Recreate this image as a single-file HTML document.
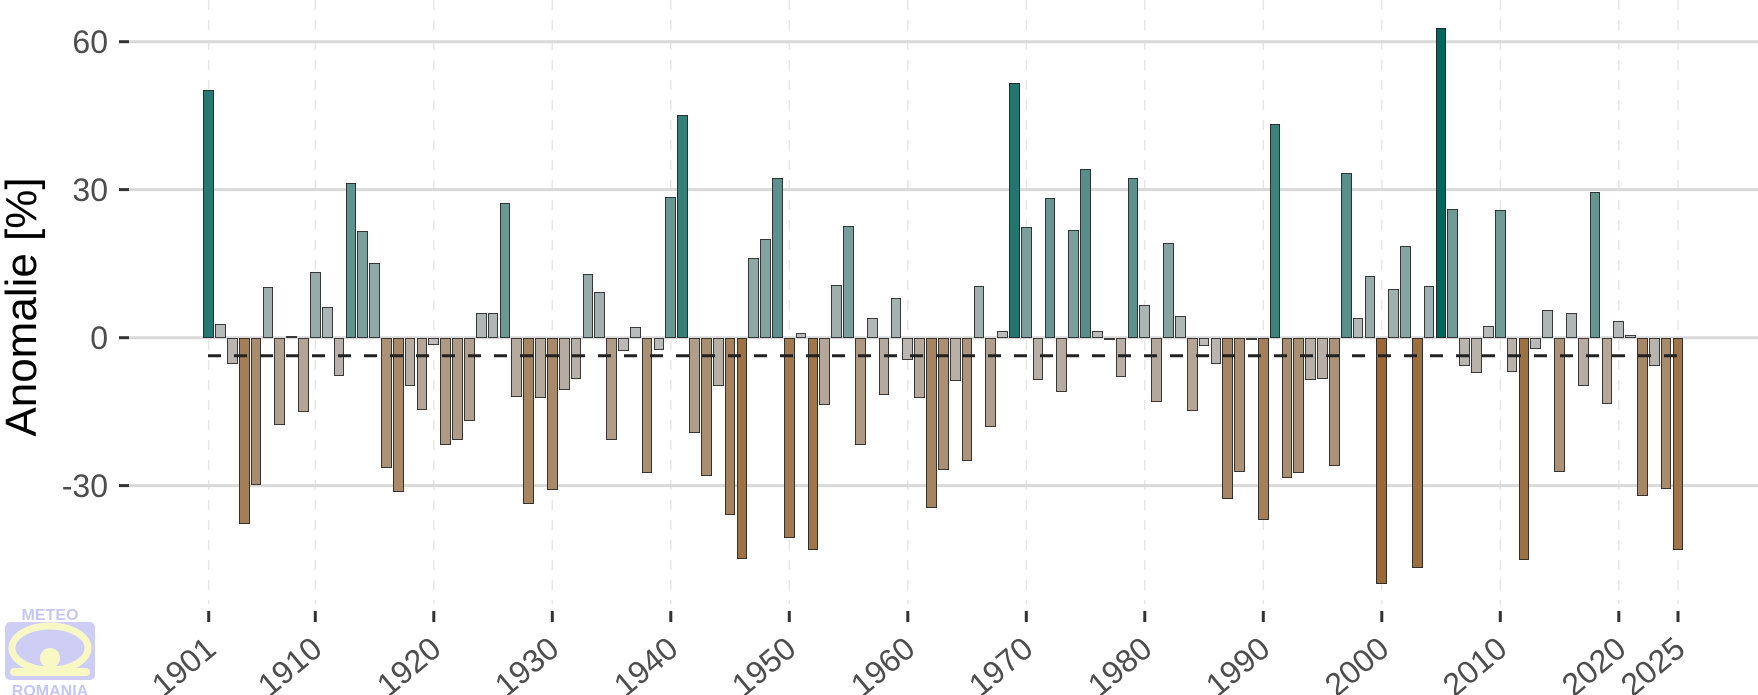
<!DOCTYPE html>
<html><head><meta charset="utf-8">
<style>
html,body{margin:0;padding:0;background:#fff;}
#w{position:relative;width:1758px;height:695px;overflow:hidden;font-family:"Liberation Sans",sans-serif;}
svg{position:absolute;left:0;top:0;}
.b{position:absolute;box-sizing:border-box;width:10.7px;border:1px solid rgba(35,35,35,0.85);
left:calc(203.35px + var(--i) * 11.849px);}
.p{top:calc(337.7px - var(--v) * 4.93px);height:calc(var(--v) * 4.93px);
background:rgb(calc(190 - var(--v) * 3.016),calc(190 - var(--v) * 1.397),calc(190 - var(--v) * 1.524));}
.n{top:337.7px;height:calc(var(--v) * -4.93px);
background:rgb(calc(190 + var(--v) * 0.7),calc(190 + var(--v) * 1.7),calc(190 + var(--v) * 2.7));}
</style></head><body><div id="w">
<svg width="1758" height="695" viewBox="0 0 1758 695">
<g stroke="#e6e6e6" stroke-width="1.5" stroke-dasharray="10,10">
<line x1="208.7" y1="0" x2="208.7" y2="604"/><line x1="315.3" y1="0" x2="315.3" y2="604"/>
<line x1="433.8" y1="0" x2="433.8" y2="604"/><line x1="552.3" y1="0" x2="552.3" y2="604"/>
<line x1="670.8" y1="0" x2="670.8" y2="604"/><line x1="789.3" y1="0" x2="789.3" y2="604"/>
<line x1="907.8" y1="0" x2="907.8" y2="604"/><line x1="1026.3" y1="0" x2="1026.3" y2="604"/>
<line x1="1144.8" y1="0" x2="1144.8" y2="604"/><line x1="1263.3" y1="0" x2="1263.3" y2="604"/>
<line x1="1381.8" y1="0" x2="1381.8" y2="604"/><line x1="1500.3" y1="0" x2="1500.3" y2="604"/>
<line x1="1618.8" y1="0" x2="1618.8" y2="604"/><line x1="1678" y1="0" x2="1678" y2="604"/>
</g>
<g stroke="#d9d9d9" stroke-width="3">
<line x1="129" y1="41.7" x2="1758" y2="41.7"/><line x1="129" y1="189.6" x2="1758" y2="189.6"/>
<line x1="129" y1="337.7" x2="1758" y2="337.7"/><line x1="129" y1="485.6" x2="1758" y2="485.6"/>
</g>
<g stroke="#333" stroke-width="3">
<line x1="119" y1="41.7" x2="129" y2="41.7"/><line x1="119" y1="189.6" x2="129" y2="189.6"/>
<line x1="119" y1="337.7" x2="129" y2="337.7"/><line x1="119" y1="485.6" x2="129" y2="485.6"/>
<line x1="208.7" y1="611" x2="208.7" y2="622"/><line x1="315.3" y1="611" x2="315.3" y2="622"/>
<line x1="433.8" y1="611" x2="433.8" y2="622"/><line x1="552.3" y1="611" x2="552.3" y2="622"/>
<line x1="670.8" y1="611" x2="670.8" y2="622"/><line x1="789.3" y1="611" x2="789.3" y2="622"/>
<line x1="907.8" y1="611" x2="907.8" y2="622"/><line x1="1026.3" y1="611" x2="1026.3" y2="622"/>
<line x1="1144.8" y1="611" x2="1144.8" y2="622"/><line x1="1263.3" y1="611" x2="1263.3" y2="622"/>
<line x1="1381.8" y1="611" x2="1381.8" y2="622"/><line x1="1500.3" y1="611" x2="1500.3" y2="622"/>
<line x1="1618.8" y1="611" x2="1618.8" y2="622"/><line x1="1678" y1="611" x2="1678" y2="622"/>
</g>
<g font-family="Liberation Sans, sans-serif" font-size="32" fill="#4d4d4d" text-anchor="end">
<text x="108" y="53">60</text><text x="108" y="201">30</text>
<text x="108" y="349">0</text><text x="108" y="497">-30</text>
</g>
<text transform="translate(36,307) rotate(-90)" font-family="Liberation Sans, sans-serif" font-size="44" fill="#000" text-anchor="middle">Anomalie [%]</text>
<g font-family="Liberation Sans, sans-serif" font-size="32" fill="#4d4d4d" text-anchor="end">
<text transform="translate(218,652) rotate(-40)">1901</text>
<text transform="translate(324,652) rotate(-40)">1910</text>
<text transform="translate(443,652) rotate(-40)">1920</text>
<text transform="translate(561,652) rotate(-40)">1930</text>
<text transform="translate(680,652) rotate(-40)">1940</text>
<text transform="translate(798,652) rotate(-40)">1950</text>
<text transform="translate(917,652) rotate(-40)">1960</text>
<text transform="translate(1035,652) rotate(-40)">1970</text>
<text transform="translate(1154,652) rotate(-40)">1980</text>
<text transform="translate(1272,652) rotate(-40)">1990</text>
<text transform="translate(1391,652) rotate(-40)">2000</text>
<text transform="translate(1509,652) rotate(-40)">2010</text>
<text transform="translate(1628,652) rotate(-40)">2020</text>
<text transform="translate(1687,652) rotate(-40)">2025</text>
</g>
<g>
<text x="50" y="620" font-family="Liberation Sans, sans-serif" font-weight="bold" font-size="16" fill="#c4c6f4" text-anchor="middle">METEO</text>
<rect x="5" y="622" width="90" height="58" rx="5" fill="#cdcdf6"/>
<ellipse cx="50" cy="648" rx="38" ry="22" fill="none" stroke="#f8f8c4" stroke-width="7"/>
<circle cx="50" cy="658" r="10" fill="#f8f8c4"/>
<rect x="10" y="668" width="80" height="8" rx="4" fill="#f8f8c4"/>
<text x="50" y="696" font-family="Liberation Sans, sans-serif" font-weight="bold" font-size="16" fill="#c4c6f4" text-anchor="middle">ROMANIA</text>
</g>
</svg>

<div class="b p" style="--i:0;--v:50.3"></div><div class="b p" style="--i:1;--v:2.8"></div><div class="b n" style="--i:2;--v:-5.4"></div><div class="b n" style="--i:3;--v:-37.7"></div><div class="b n" style="--i:4;--v:-29.9"></div><div class="b p" style="--i:5;--v:10.3"></div><div class="b n" style="--i:6;--v:-17.8"></div><div class="b p" style="--i:7;--v:0.4"></div><div class="b n" style="--i:8;--v:-15.1"></div><div class="b p" style="--i:9;--v:13.3"></div>
<div class="b p" style="--i:10;--v:6.2"></div><div class="b n" style="--i:11;--v:-7.7"></div><div class="b p" style="--i:12;--v:31.3"></div><div class="b p" style="--i:13;--v:21.6"></div><div class="b p" style="--i:14;--v:15.2"></div><div class="b n" style="--i:15;--v:-26.4"></div><div class="b n" style="--i:16;--v:-31.4"></div><div class="b n" style="--i:17;--v:-9.8"></div><div class="b n" style="--i:18;--v:-14.7"></div><div class="b n" style="--i:19;--v:-1.4"></div>
<div class="b n" style="--i:20;--v:-21.7"></div><div class="b n" style="--i:21;--v:-20.7"></div><div class="b n" style="--i:22;--v:-16.8"></div><div class="b p" style="--i:23;--v:5.1"></div><div class="b p" style="--i:24;--v:5.1"></div><div class="b p" style="--i:25;--v:27.3"></div><div class="b n" style="--i:26;--v:-12.0"></div><div class="b n" style="--i:27;--v:-33.8"></div><div class="b n" style="--i:28;--v:-12.2"></div><div class="b n" style="--i:29;--v:-30.8"></div>
<div class="b n" style="--i:30;--v:-10.7"></div><div class="b n" style="--i:31;--v:-8.4"></div><div class="b p" style="--i:32;--v:12.9"></div><div class="b p" style="--i:33;--v:9.3"></div><div class="b n" style="--i:34;--v:-20.7"></div><div class="b n" style="--i:35;--v:-2.8"></div><div class="b p" style="--i:36;--v:2.2"></div><div class="b n" style="--i:37;--v:-27.4"></div><div class="b n" style="--i:38;--v:-2.4"></div><div class="b p" style="--i:39;--v:28.5"></div>
<div class="b p" style="--i:40;--v:45.1"></div><div class="b n" style="--i:41;--v:-19.3"></div><div class="b n" style="--i:42;--v:-28.1"></div><div class="b n" style="--i:43;--v:-9.7"></div><div class="b n" style="--i:44;--v:-36"></div><div class="b n" style="--i:45;--v:-44.8"></div><div class="b p" style="--i:46;--v:16.1"></div><div class="b p" style="--i:47;--v:20.1"></div><div class="b p" style="--i:48;--v:32.3"></div><div class="b n" style="--i:49;--v:-40.7"></div>
<div class="b p" style="--i:50;--v:0.9"></div><div class="b n" style="--i:51;--v:-43"></div><div class="b n" style="--i:52;--v:-13.7"></div><div class="b p" style="--i:53;--v:10.6"></div><div class="b p" style="--i:54;--v:22.6"></div><div class="b n" style="--i:55;--v:-21.8"></div><div class="b p" style="--i:56;--v:4.0"></div><div class="b n" style="--i:57;--v:-11.6"></div><div class="b p" style="--i:58;--v:8.1"></div><div class="b n" style="--i:59;--v:-4.6"></div>
<div class="b n" style="--i:60;--v:-12.2"></div><div class="b n" style="--i:61;--v:-34.5"></div><div class="b n" style="--i:62;--v:-26.8"></div><div class="b n" style="--i:63;--v:-8.8"></div><div class="b n" style="--i:64;--v:-25"></div><div class="b p" style="--i:65;--v:10.4"></div><div class="b n" style="--i:66;--v:-18.2"></div><div class="b p" style="--i:67;--v:1.4"></div><div class="b p" style="--i:68;--v:51.7"></div><div class="b p" style="--i:69;--v:22.5"></div>
<div class="b n" style="--i:70;--v:-8.5"></div><div class="b p" style="--i:71;--v:28.4"></div><div class="b n" style="--i:72;--v:-11.1"></div><div class="b p" style="--i:73;--v:21.8"></div><div class="b p" style="--i:74;--v:34.2"></div><div class="b p" style="--i:75;--v:1.4"></div><div class="b n" style="--i:76;--v:-0.4"></div><div class="b n" style="--i:77;--v:-8.0"></div><div class="b p" style="--i:78;--v:32.4"></div><div class="b p" style="--i:79;--v:6.6"></div>
<div class="b n" style="--i:80;--v:-13.1"></div><div class="b p" style="--i:81;--v:19.3"></div><div class="b p" style="--i:82;--v:4.5"></div><div class="b n" style="--i:83;--v:-14.9"></div><div class="b n" style="--i:84;--v:-1.7"></div><div class="b n" style="--i:85;--v:-5.3"></div><div class="b n" style="--i:86;--v:-32.7"></div><div class="b n" style="--i:87;--v:-27.2"></div><div class="b n" style="--i:88;--v:-0.5"></div><div class="b n" style="--i:89;--v:-37"></div>
<div class="b p" style="--i:90;--v:43.3"></div><div class="b n" style="--i:91;--v:-28.5"></div><div class="b n" style="--i:92;--v:-27.4"></div><div class="b n" style="--i:93;--v:-8.5"></div><div class="b n" style="--i:94;--v:-8.4"></div><div class="b n" style="--i:95;--v:-26"></div><div class="b p" style="--i:96;--v:33.5"></div><div class="b p" style="--i:97;--v:3.9"></div><div class="b p" style="--i:98;--v:12.6"></div><div class="b n" style="--i:99;--v:-50"></div>
<div class="b p" style="--i:100;--v:9.8"></div><div class="b p" style="--i:101;--v:18.6"></div><div class="b n" style="--i:102;--v:-46.8"></div><div class="b p" style="--i:103;--v:10.5"></div><div class="b p" style="--i:104;--v:62.8"></div><div class="b p" style="--i:105;--v:26.1"></div><div class="b n" style="--i:106;--v:-5.8"></div><div class="b n" style="--i:107;--v:-7.2"></div><div class="b p" style="--i:108;--v:2.3"></div><div class="b p" style="--i:109;--v:26"></div>
<div class="b n" style="--i:110;--v:-7.0"></div><div class="b n" style="--i:111;--v:-45.1"></div><div class="b n" style="--i:112;--v:-2.3"></div><div class="b p" style="--i:113;--v:5.7"></div><div class="b n" style="--i:114;--v:-27.2"></div><div class="b p" style="--i:115;--v:5.0"></div><div class="b n" style="--i:116;--v:-9.8"></div><div class="b p" style="--i:117;--v:29.5"></div><div class="b n" style="--i:118;--v:-13.4"></div><div class="b p" style="--i:119;--v:3.3"></div>
<div class="b p" style="--i:120;--v:0.5"></div><div class="b n" style="--i:121;--v:-32.2"></div><div class="b n" style="--i:122;--v:-5.7"></div><div class="b n" style="--i:123;--v:-30.7"></div><div class="b n" style="--i:124;--v:-43.1"></div>

<svg width="1758" height="695" viewBox="0 0 1758 695">
<line x1="208" y1="355.7" x2="1682" y2="355.7" stroke="#222" stroke-width="3" stroke-dasharray="13,13"/>
</svg>
</div></body></html>
